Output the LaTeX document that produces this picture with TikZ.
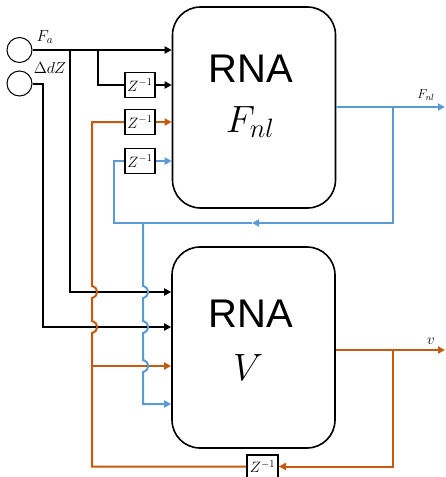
\RequirePackage{fix-cm}
\documentclass[tikz,border=0pt]{standalone}
\usepackage{fontspec}
\newfontfamily\arialfont{Liberation Sans}
\usetikzlibrary{arrows.meta}
\definecolor{orng}{HTML}{C55A11}
\definecolor{blu}{HTML}{5B9BD5}
\def\bumpv#1#2{-- (#1,#2-6) .. controls (#1+7,#2-4) and (#1+7,#2+4) .. (#1,#2+6)}
\begin{document}
\begin{tikzpicture}[x=1pt,y=-1pt,
  wire/.style={line width=2pt},
  arr/.style={wire,-{Triangle[length=7pt,width=7pt]}},
  ow/.style={wire,color=orng},
  oarr/.style={arr,color=orng},
  bw/.style={wire,color=blu},
  barr/.style={arr,color=blu},
  rna/.style={draw,line width=1.6pt,rounded corners=28pt,minimum width=163pt,minimum height=201pt,inner sep=0pt},
  zbox/.style={draw,line width=1.6pt,fill=white,minimum width=30pt,minimum height=25pt,inner sep=0pt,font=\fontsize{15}{15}\selectfont},
  src/.style={draw,line width=1pt,circle,minimum size=25pt,inner sep=0pt},
  big/.style={anchor=base,inner sep=0pt,font=\fontsize{40}{40}\selectfont\arialfont},
  bigm/.style={anchor=base,inner sep=0pt,font=\fontsize{38}{38}\selectfont},
  lbl/.style={inner sep=0pt,font=\fontsize{16}{16}\selectfont}
]
\useasboundingbox (0,0) rectangle (446,477);

% main blocks
\node[rna] (box1) at (254,107.5) {};
\node[rna] (box2) at (253.5,347.5) {};
\node[big] (t1) at (251,82) {RNA};
\node[bigm] (t2) at (250,132) {$F_{nl}$};
\node[big] (t3) at (251,327) {RNA};
\node[bigm] (t4) at (248,380) {$V$};

% sources
\node[src] (fa) at (19.5,50) {};
\node[src] (dz) at (19.5,83.5) {};
\node[lbl] (lfa) at (45,37) {$F_a$};
\node[lbl] (ldz) at (50,68) {$\Delta dZ$};

% delays
\node[zbox] (zA) at (140,85) {$Z^{-1}$};
\node[zbox] (zB) at (140,122) {$Z^{-1}$};
\node[zbox] (zC) at (140,161) {$Z^{-1}$};
\node[zbox,minimum width=31pt,minimum height=23pt] (zD) at (262.5,466.5) {$Z^{-1}$};

% helper coordinates
\coordinate (ya) at (0,292);
\coordinate (yb) at (0,327);
\coordinate (yc) at (0,366);
\coordinate (yd) at (0,404);
\coordinate (fnlj) at (393,107);
\coordinate (fnlend) at (445,107);
\coordinate (vj) at (393,350);
\coordinate (vend) at (445,350);
\coordinate (fbmid) at (252,223);

% black inputs
\draw[arr] (fa.east) -- (fa.east -| box1.west);
\draw[wire] (98,50) -- (98,85) -- (zA.west);
\draw[arr] (zA.east) -- (zA.east -| box1.west);
\draw[arr] (70,50) -- (70,292) -- (box2.west |- ya);
\draw[arr] (dz.east) -- (43,83.5) -- (43,327) -- (box2.west |- yb);

% orange
\draw[ow] (zB.west) -- (92,122) \bumpv{92}{292} \bumpv{92}{327} -- (92,466.5) -- (zD.west);
\draw[oarr] (zB.east) -- (zB.east -| box1.west);
\draw[oarr] (92,366) -- (box2.west |- yc);
\draw[oarr] (box2.east |- vj) -- (vend);
\draw[oarr] (vj) -- (393,466.5) -- (zD.east);
\node[lbl,font=\fontsize{15}{15}\selectfont] (lv) at (431,341) {$v$};

% blue
\draw[barr] (box1.east |- fnlj) -- (fnlend);
\node[lbl,font=\fontsize{13}{13}\selectfont] (lfnl) at (426,95) {$F_{nl}$};
\draw[barr] (fnlj) -- (393,223) -- (fbmid);
\draw[bw] (fbmid) -- (114,223) -- (114,161) -- (zC.west);
\draw[barr] (zC.east) -- (zC.east -| box1.west);
\draw[barr] (143,223) \bumpv{143}{292} \bumpv{143}{327} \bumpv{143}{366} -- (143,404) -- (box2.west |- yd);
\end{tikzpicture}
\end{document}
